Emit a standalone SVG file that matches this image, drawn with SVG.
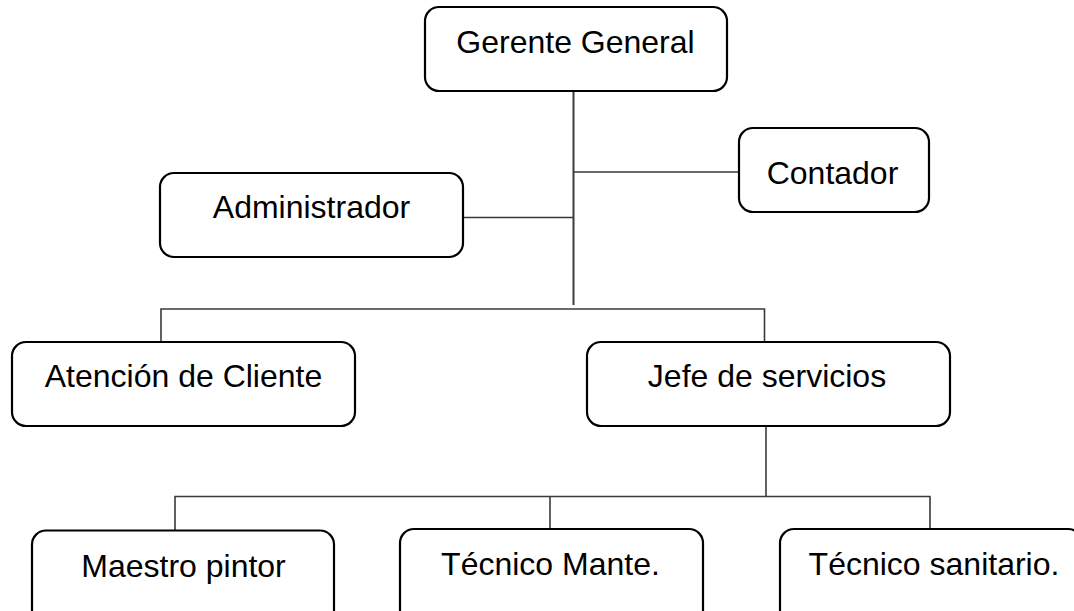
<svg xmlns="http://www.w3.org/2000/svg" width="1074" height="611" viewBox="0 0 1074 611">
<style>
.box{fill:#fff;stroke:#000;stroke-width:2.2}
.lbl{font-family:"Liberation Sans",Arial,sans-serif;font-size:32px;fill:#000;text-anchor:middle}
.ln{fill:none;stroke:#3a3a3a;stroke-width:1.6}
</style>
<rect width="1074" height="611" fill="#fff"/>
<g id="connectors">
<path class="ln" d="M573.5 91 V305" style="stroke-width:2"/>
<path class="ln" d="M573.5 172 H739"/>
<path class="ln" d="M463 217.5 H573.5"/>
<path class="ln" d="M161 342 V309 H764.5 V342"/>
<path class="ln" d="M766 426 V496.5"/>
<path class="ln" d="M175 530 V496.5 H930 V529"/>
<path class="ln" d="M550 496.5 V529"/>
</g>
<g id="gerente">
<rect class="box" x="425" y="7" width="302" height="84" rx="14"/>
<text class="lbl" x="575.5" y="53">Gerente General</text>
</g>
<g id="contador">
<rect class="box" x="739" y="128" width="190" height="84" rx="14"/>
<text class="lbl" x="832.5" y="184">Contador</text>
</g>
<g id="administrador">
<rect class="box" x="160" y="173" width="303" height="84" rx="14"/>
<text class="lbl" x="311.5" y="218">Administrador</text>
</g>
<g id="atencion">
<rect class="box" x="12" y="342" width="343" height="84" rx="14"/>
<text class="lbl" x="183.5" y="387">Atención de Cliente</text>
</g>
<g id="jefe">
<rect class="box" x="587" y="342" width="363" height="84" rx="14"/>
<text class="lbl" x="767" y="387">Jefe de servicios</text>
</g>
<g id="maestro">
<rect class="box" x="32" y="530.5" width="302" height="110" rx="14"/>
<text class="lbl" x="183.5" y="577">Maestro pintor</text>
</g>
<g id="tecnico-mante">
<rect class="box" x="400" y="529" width="303" height="110" rx="14"/>
<text class="lbl" x="550.5" y="575">Técnico Mante.</text>
</g>
<g id="tecnico-sanitario">
<rect class="box" x="780" y="529" width="302" height="110" rx="14"/>
<text class="lbl" x="934" y="575">Técnico sanitario.</text>
</g>
</svg>
